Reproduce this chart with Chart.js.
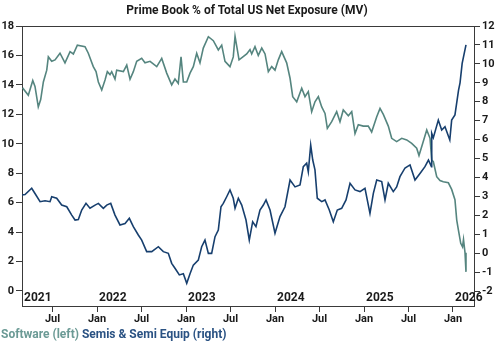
<!DOCTYPE html>
<html>
<head>
<meta charset="utf-8">
<script src="https://cdn.jsdelivr.net/npm/chart.js@4"></script>
<style>
  html, body { margin: 0; padding: 0; background: #fff; }
  #wrap { position: relative; width: 500px; height: 346px; }
  #title {
    position: absolute; top: 3px; left: 0; width: 494px; text-align: center;
    font: bold 12px Roboto, sans-serif; color: #1a1a1a;
  }
  #legend {
    position: absolute; left: 1px; top: 327px; white-space: nowrap;
    font: bold 12px Roboto, sans-serif;
  }
</style>
</head>
<body>
<div id="wrap">
  <canvas id="chart" width="500" height="346"></canvas>
  <div id="title">Prime Book % of Total US Net Exposure (MV)</div>
  <div id="legend">
    <span style="color:#6b9a95">Software (left)</span>
    <span style="color:#2a5283">Semis &amp; Semi Equip (right)</span>
  </div>
</div>

<script>
// time is in decimal years
const swTime = [2021.163, 2021.228, 2021.278, 2021.303, 2021.340, 2021.367, 2021.397, 2021.435, 2021.453, 2021.491,
  2021.528, 2021.584, 2021.640, 2021.697, 2021.734, 2021.779, 2021.865, 2021.902, 2021.958, 2021.989,
  2022.015, 2022.053, 2022.090, 2022.116, 2022.146, 2022.165, 2022.202, 2022.221, 2022.296, 2022.334,
  2022.371, 2022.408, 2022.446, 2022.502, 2022.539, 2022.596, 2022.671, 2022.727, 2022.783, 2022.839,
  2022.876, 2022.913, 2022.944, 2022.970, 2023.008, 2023.045, 2023.082, 2023.120, 2023.157, 2023.194,
  2023.251, 2023.307, 2023.363, 2023.401, 2023.438, 2023.494, 2023.531, 2023.551, 2023.596, 2023.682,
  2023.719, 2023.738, 2023.775, 2023.812, 2023.851, 2023.888, 2023.925, 2023.963, 2024.000, 2024.037,
  2024.075, 2024.131, 2024.169, 2024.199, 2024.244, 2024.300, 2024.337, 2024.374, 2024.412, 2024.449,
  2024.487, 2024.525, 2024.562, 2024.588, 2024.637, 2024.693, 2024.730, 2024.767, 2024.824, 2024.862,
  2024.899, 2024.936, 2024.992, 2025.048, 2025.086, 2025.143, 2025.180, 2025.217, 2025.273, 2025.311,
  2025.367, 2025.424, 2025.480, 2025.536, 2025.592, 2025.618, 2025.660, 2025.705, 2025.742, 2025.761,
  2025.779, 2025.817, 2025.854, 2025.891, 2025.948, 2025.985, 2026.022, 2026.042, 2026.062, 2026.087,
  2026.107, 2026.118, 2026.135, 2026.146];
const swValue = [13.8, 13.3, 14.3, 13.9, 12.5, 13.0, 14.2, 15.0, 15.9, 15.6,
  15.7, 16.15, 15.5, 16.26, 16.1, 16.7, 16.6, 16.15, 15.24, 14.9,
  14.2, 13.65, 14.33, 14.9, 14.7, 14.9, 14.4, 15.0, 14.9, 15.35,
  14.38, 14.9, 15.6, 15.8, 15.5, 15.6, 15.24, 15.8, 14.8, 14.0,
  14.4, 14.1, 15.9, 14.2, 14.2, 14.8, 15.24, 16.15, 15.5, 16.5,
  17.27, 17.0, 16.37, 16.7, 15.6, 15.24, 15.9, 17.3, 15.7, 16.1,
  16.4, 16.1, 16.6, 16.0, 16.5, 16.1, 14.9, 15.24, 15.0, 15.7,
  16.26, 15.5, 14.45, 13.2, 12.85, 13.77, 13.2, 13.54, 12.18, 12.85,
  13.2, 12.5, 12.06, 11.05, 11.5, 12.18, 11.5, 12.3, 11.9, 12.18,
  10.7, 11.3, 11.2, 11.2, 10.8, 11.84, 12.4, 12.0, 11.2, 10.37,
  10.15, 10.37, 10.26, 10.03, 9.7, 9.2, 10.03, 10.94, 10.37, 8.9,
  8.78, 7.76, 7.5, 7.42, 7.35, 6.9, 6.2, 4.82, 4.1, 3.24,
  3.0, 3.5, 2.6, 1.3];

const semiTime = [2021.157, 2021.191, 2021.266, 2021.303, 2021.360, 2021.416, 2021.472, 2021.491, 2021.547, 2021.603,
  2021.660, 2021.716, 2021.753, 2021.790, 2021.828, 2021.876, 2021.921, 2021.978, 2022.015, 2022.071,
  2022.109, 2022.154, 2022.202, 2022.258, 2022.315, 2022.363, 2022.408, 2022.464, 2022.502, 2022.558,
  2022.615, 2022.689, 2022.745, 2022.801, 2022.839, 2022.876, 2022.925, 2022.970, 2023.008, 2023.045,
  2023.082, 2023.138, 2023.176, 2023.213, 2023.251, 2023.288, 2023.326, 2023.363, 2023.393, 2023.419,
  2023.457, 2023.494, 2023.531, 2023.551, 2023.588, 2023.626, 2023.674, 2023.711, 2023.749, 2023.786,
  2023.831, 2023.869, 2023.899, 2023.944, 2024.000, 2024.056, 2024.112, 2024.169, 2024.225, 2024.281,
  2024.318, 2024.356, 2024.374, 2024.401, 2024.424, 2024.449, 2024.475, 2024.525, 2024.562, 2024.610,
  2024.655, 2024.700, 2024.749, 2024.798, 2024.843, 2024.899, 2024.955, 2025.011, 2025.067, 2025.105,
  2025.143, 2025.199, 2025.236, 2025.273, 2025.329, 2025.367, 2025.404, 2025.461, 2025.517, 2025.573,
  2025.629, 2025.685, 2025.724, 2025.758, 2025.761, 2025.779, 2025.835, 2025.873, 2025.910, 2025.964,
  2025.985, 2026.022, 2026.062, 2026.079, 2026.103, 2026.146];
const semiValue = [3.07, 3.1, 3.43, 3.15, 2.72, 2.77, 2.72, 2.98, 2.9, 2.54,
  2.45, 2.01, 1.75, 1.78, 2.28, 2.63, 2.37, 2.54, 2.63, 2.37,
  2.54, 2.63, 2.01, 1.49, 1.57, 1.84, 1.4, 0.96, 0.69, 0.08,
  0.08, 0.34, 0.08, -0.01, -0.54, -0.8, -1.15, -1.09, -1.59, -1.09,
  -0.63, -0.37, 0.34, 0.69, -0.01, -0.01, 0.87, 1.22, 2.45, 2.63,
  2.98, 3.34, 2.9, 2.37, 2.9, 2.54, 1.75, 0.69, 1.66, 1.4,
  2.28, 2.54, 2.81, 2.28, 1.05, 1.93, 2.45, 3.86, 3.5, 3.6,
  4.57, 4.75, 4.3, 5.71, 4.92, 4.4, 2.9, 2.72, 2.81, 2.28,
  1.66, 2.28, 2.37, 2.81, 3.69, 3.34, 3.25, 3.43, 2.1, 3.16,
  3.86, 3.78, 2.81, 3.69, 3.25, 3.5, 4.04, 4.5, 4.66, 3.86,
  4.21, 4.57, 4.92, 4.57, 6.33, 6.1, 7.03, 6.5, 6.68, 5.98,
  7.03, 7.3, 8.6, 9.0, 10.03, 11.0];

const xTicks = [2021.5, 2022, 2022.5, 2023, 2023.5, 2024, 2024.5, 2025, 2025.5, 2026];
const yearLabels = [2021, 2022, 2023, 2024, 2025, 2026];
const leftTicks = [0, 2, 4, 6, 8, 10, 12, 14, 16, 18];
const rightTicks = [-2, -1, 0, 1, 2, 3, 4, 5, 6, 7, 8, 9, 10, 11, 12];

const TEAL = "#55857f";
const NAVY = "#173f6e";
const AXIS = "#3a3a3a";
const FONT = { family: "Roboto", size: 11, weight: "bold" };

// year labels sit inside the plot, just above the x axis
const yearPlugin = {
  id: "years",
  afterDatasetsDraw(chart) {
    const { ctx, chartArea, scales } = chart;
    ctx.save();
    ctx.font = "bold 12px Roboto";
    ctx.fillStyle = "#1a1a1a";
    ctx.textAlign = "left";
    ctx.textBaseline = "middle";
    yearLabels.forEach((yr) => {
      const px = Math.max(scales.x.getPixelForValue(yr), chartArea.left) + 2;
      ctx.fillText(String(yr), px, chartArea.bottom - 8);
    });
    ctx.restore();
  },
};

const yAxis = (pos, min, max, list, width) => ({
  type: "linear",
  position: pos,
  min, max,
  afterBuildTicks: (s) => { s.ticks = list.map((v) => ({ value: v })); },
  afterFit: (s) => { s.width = width; },
  grid: { drawOnChartArea: false, tickLength: 6, color: AXIS },
  border: { display: true, color: AXIS, width: 1 },
  ticks: { color: "#1a1a1a", font: FONT, padding: 2 },
});

new Chart(document.getElementById("chart"), {
  type: "line",
  data: {
    datasets: [
      {
        label: "Semis & Semi Equip (right)",
        data: semiTime.map((t, i) => ({ x: t, y: semiValue[i] })),
        yAxisID: "yR",
        borderColor: NAVY,
        borderWidth: 1.6,
        pointRadius: 0,
        order: 0,
      },
      {
        label: "Software (left)",
        data: swTime.map((t, i) => ({ x: t, y: swValue[i] })),
        yAxisID: "yL",
        borderColor: TEAL,
        borderWidth: 1.6,
        pointRadius: 0,
        order: 1,
      },
    ],
  },
  options: {
    responsive: false,
    animation: false,
    layout: { padding: { top: 26, bottom: 20, left: 0, right: 0 } },
    plugins: { legend: { display: false }, title: { display: false }, tooltip: { enabled: false } },
    scales: {
      x: {
        type: "linear",
        min: 2021.157,
        max: 2026.236,
        afterBuildTicks: (s) => { s.ticks = xTicks.map((v) => ({ value: v })); },
        afterFit: (s) => { s.height = 20; },
        grid: { drawOnChartArea: false, tickLength: 6, color: AXIS },
        border: { display: true, color: AXIS, width: 1 },
        ticks: {
          color: "#1a1a1a", font: FONT, padding: 1, maxRotation: 0, autoSkip: false,
          callback: (v) => (Number.isInteger(v) ? "Jan" : "Jul"),
        },
      },
      xTop: {
        type: "linear",
        position: "top",
        min: 0, max: 1,
        afterFit: (s) => { s.height = 0; },
        grid: { display: false },
        border: { display: true, color: AXIS, width: 1 },
        ticks: { display: false },
      },
      yL: yAxis("left", -1.019, 18, leftTicks, 22),
      yR: yAxis("right", -2.792, 12, rightTicks, 26),
    },
  },
  plugins: [yearPlugin],
});
</script>
</body>
</html>
